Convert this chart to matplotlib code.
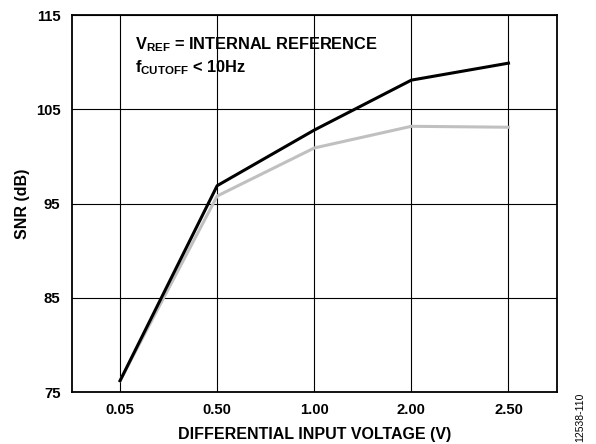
import numpy as np
import matplotlib.pyplot as plt

plt.rcParams['font.family'] = ['Liberation Sans', 'DejaVu Sans']
plt.rcParams['font.weight'] = 'bold'
plt.rcParams['mathtext.fontset'] = 'custom'
plt.rcParams['mathtext.rm'] = 'Liberation Sans:bold'
plt.rcParams['mathtext.bf'] = 'Liberation Sans:bold'

voltage_labels = ['0.05', '0.50', '1.00', '2.00', '2.50']
snr_black = [76.2, 96.9, 102.8, 108.1, 109.9]
snr_gray = [76.2, 95.8, 100.9, 103.2, 103.1]
y_ticks = [75, 85, 95, 105, 115]

fig = plt.figure(figsize=(5.96, 4.44), dpi=100)
ax = fig.add_axes([0.12, 0.117, 0.8146, 0.849])

x = np.arange(len(voltage_labels))
ax.plot(x, snr_gray, color='#c0c0c0', lw=2.2, zorder=3)
ax.plot(x, snr_black, color='black', lw=2.2, zorder=4)

ax.set_xlim(-0.5, len(voltage_labels) - 0.5)
ax.set_ylim(75, 115)
ax.set_xticks(x)
ax.set_xticklabels(voltage_labels)
ax.set_yticks(y_ticks)
ax.tick_params(length=0, labelsize=10.7, pad=8)
ax.grid(True, color='black', lw=0.8)
for s in ax.spines.values():
    s.set_linewidth(1.3)

ax.set_xlabel('DIFFERENTIAL INPUT VOLTAGE (V)', fontsize=11.5, fontweight='bold', labelpad=7)
ax.set_ylabel('SNR (dB)', fontsize=11.5, fontweight='bold', labelpad=4)

fig.text(0.2265, 0.8896, r'V$_{\mathrm{REF}}$ = INTERNAL REFERENCE',
         fontsize=11.8, fontweight='bold', va='baseline')
fig.text(0.2265, 0.838, r'f$_{\mathrm{CUTOFF}}$ < 10Hz',
         fontsize=11.8, fontweight='bold', va='baseline')

fig.text(0.973, 0.06, '12538-110', rotation=90, fontsize=7.5, fontweight='normal',
         ha='center', va='center')

fig.savefig('out.png', dpi=100)
